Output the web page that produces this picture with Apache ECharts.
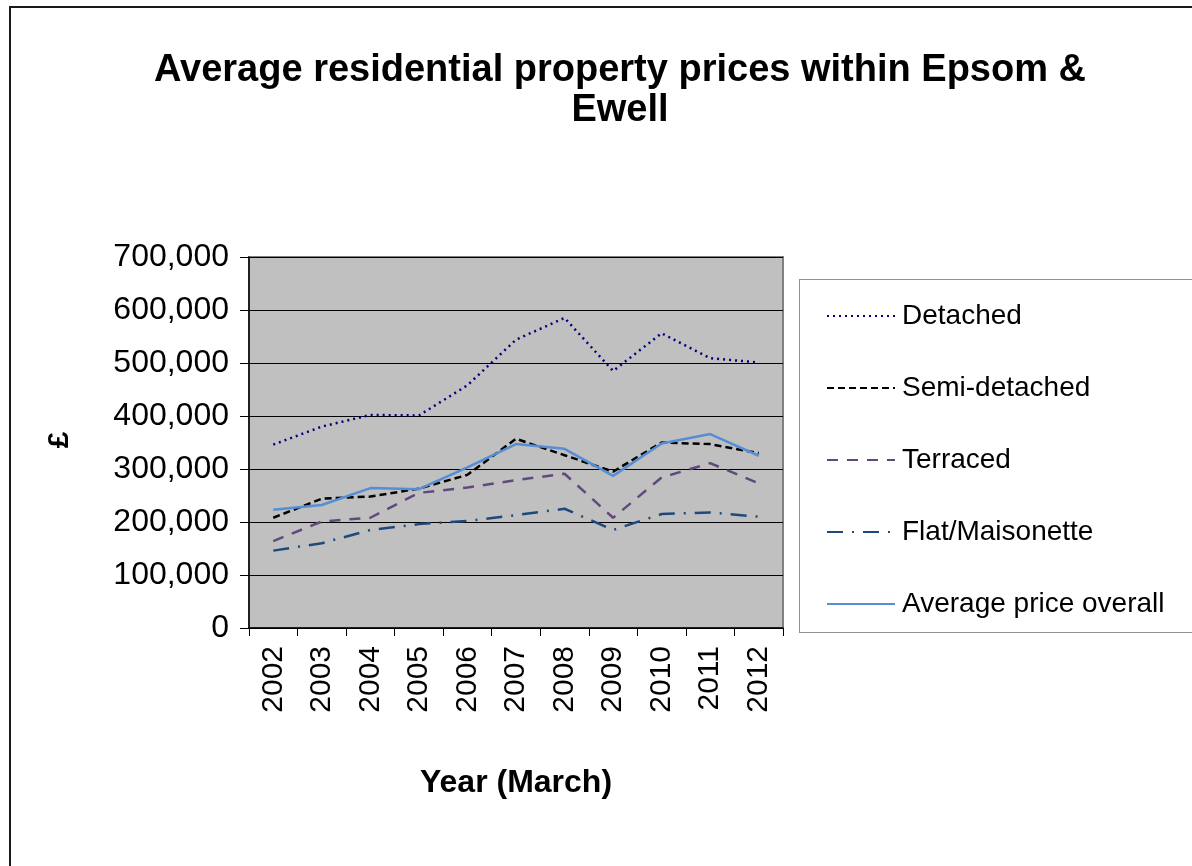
<!DOCTYPE html>
<html>
<head>
<meta charset="utf-8">
<title>Average residential property prices within Epsom &amp; Ewell</title>
<script src="https://cdn.jsdelivr.net/npm/echarts@6/dist/echarts.min.js"></script>
<style>
  html, body { margin: 0; padding: 0; background: #ffffff; }
  #chart { width: 1192px; height: 866px; }
</style>
</head>
<body>
<div id="chart"></div>
<script>
// Years (March) on the category axis
const years = ['2002', '2003', '2004', '2005', '2006', '2007', '2008', '2009', '2010', '2011', '2012'];

// Average prices (£) by property type
const detached     = [346000, 380000, 402000, 401000, 458000, 544000, 585000, 485000, 556000, 509000, 501000];
const semiDetached = [208000, 244000, 248000, 263000, 289000, 357000, 326000, 295000, 350000, 347000, 330000];
const terraced     = [164000, 201000, 208000, 255000, 265000, 279000, 291000, 208000, 284000, 311000, 273000];
const flats        = [146000, 160000, 185000, 196000, 202000, 213000, 225000, 185000, 215000, 218000, 210000];
const overall      = [223000, 232000, 264000, 262000, 303000, 347000, 338000, 287000, 348000, 366000, 325000];

// Value axis ticks
const yMin = 0, yMax = 700000, yStep = 100000;

const FONT = 'Liberation Sans, Arial, sans-serif';

const chart = echarts.init(document.getElementById('chart'), null, { renderer: 'canvas' });

function fmt(v) {
  return v.toString().replace(/\B(?=(\d{3})+(?!\d))/g, ',');
}

function lineSeries(name, data, color, type, width) {
  return {
    name: name,
    type: 'line',
    data: data,
    symbol: 'none',
    showSymbol: false,
    animation: false,
    lineStyle: { color: color, width: width, type: type, cap: 'butt' },
    itemStyle: { color: color }
  };
}

chart.setOption({
  backgroundColor: '#ffffff',
  animation: false,
  title: {
    text: 'Average residential property prices within Epsom &\nEwell',
    left: 615,
    top: 46,
    textAlign: 'center',
    textStyle: { fontFamily: FONT, fontSize: 38, fontWeight: 'bold', color: '#000', lineHeight: 40 }
  },
  graphic: [
    // outer frame (left and top edges visible)
    { type: 'rect', silent: true, z: -10,
      shape: { x: 10, y: 7, width: 1400, height: 1000 },
      style: { fill: 'none', stroke: '#1a1a1a', lineWidth: 2 } },
    // legend frame
    { type: 'rect', silent: true, z: -5,
      shape: { x: 799.5, y: 279.5, width: 500, height: 353 },
      style: { fill: '#ffffff', stroke: '#222', lineWidth: 1, lineDash: [1, 1] } },
    // y axis title
    { type: 'text', silent: true,
      x: 60, y: 440, rotation: Math.PI / 2,
      style: { text: '£', fontFamily: FONT, fontSize: 30, fontWeight: 'bold', fill: '#000',
               align: 'center', verticalAlign: 'middle' } }
  ],
  legend: {
    orient: 'vertical',
    left: 821,
    top: 297,
    itemWidth: 68,
    itemHeight: 14,
    itemGap: 44,
    selectedMode: false,
    itemStyle: { opacity: 0 },
    lineStyle: { width: 2 },
    textStyle: { fontFamily: FONT, fontSize: 28, color: '#000', lineHeight: 28, padding: [0, 0, 0, 2] },
    data: ['Detached', 'Semi-detached', 'Terraced', 'Flat/Maisonette', 'Average price overall']
  },
  grid: {
    left: 249, right: 409, top: 257, bottom: 238,
    show: true,
    backgroundColor: '#c0c0c0',
    borderColor: '#808080',
    borderWidth: 2,
    containLabel: false
  },
  xAxis: {
    type: 'category',
    data: years,
    boundaryGap: true,
    name: 'Year (March)',
    nameLocation: 'middle',
    nameGap: 139,
    nameTextStyle: { fontFamily: FONT, fontSize: 32, fontWeight: 'bold', color: '#000' },
    axisLine: { show: true, lineStyle: { color: '#000', width: 1.5 } },
    axisTick: { show: true, length: 8, lineStyle: { color: '#000', width: 1 } },
    axisLabel: { rotate: 90, margin: 18, fontFamily: FONT, fontSize: 30, color: '#000', interval: 0 },
    splitLine: { show: false }
  },
  yAxis: {
    type: 'value',
    min: yMin, max: yMax, interval: yStep,
    axisLine: { show: true, lineStyle: { color: '#000', width: 1.5 } },
    axisTick: { show: true, length: 9, lineStyle: { color: '#000', width: 1 } },
    axisLabel: { margin: 20, fontFamily: FONT, fontSize: 32, color: '#000', formatter: fmt },
    splitLine: { show: true, lineStyle: { color: '#000', width: 1 } }
  },
  series: [
    lineSeries('Detached', detached, '#000080', [2, 4], 2.5),
    lineSeries('Semi-detached', semiDetached, '#000000', [7, 4], 2.5),
    lineSeries('Terraced', terraced, '#604a7b', [11, 9], 2.5),
    lineSeries('Flat/Maisonette', flats, '#1f497d', [16, 9, 2, 9], 2.5),
    lineSeries('Average price overall', overall, '#558ed5', 'solid', 2.5)
  ]
});
</script>
</body>
</html>
